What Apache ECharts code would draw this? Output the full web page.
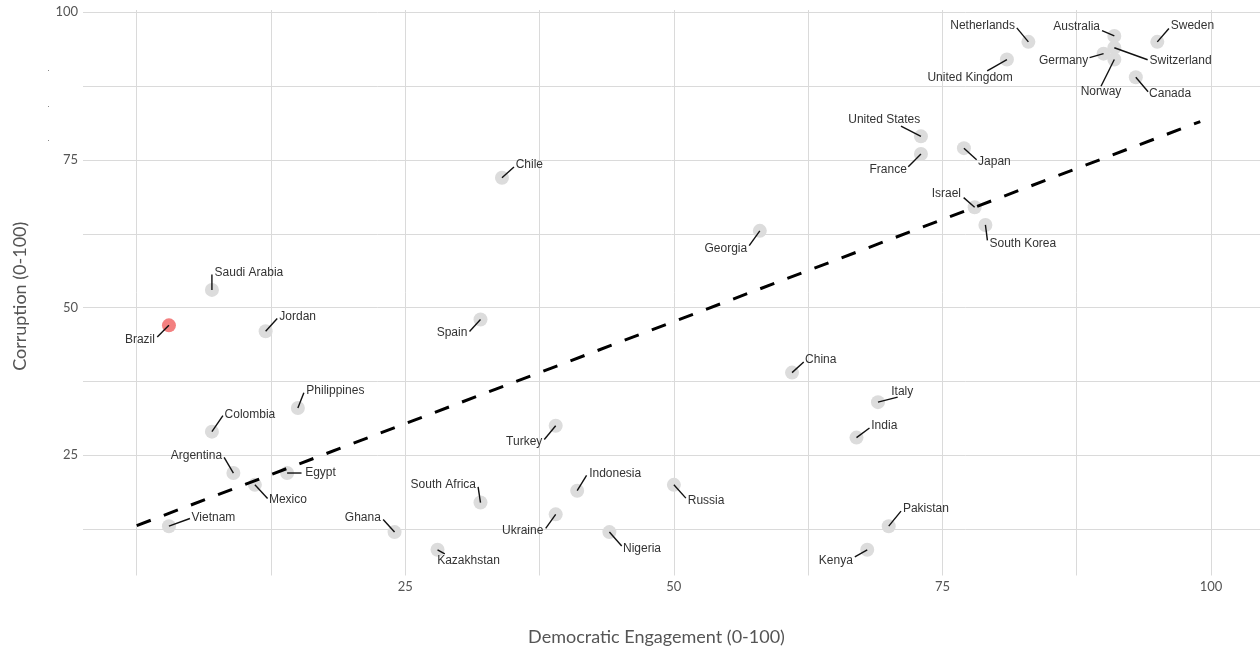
<!DOCTYPE html>
<html><head><meta charset="utf-8">
<script src="https://cdn.jsdelivr.net/npm/echarts@6/dist/echarts.min.js"></script>
<style>html,body{margin:0;padding:0;background:#fff}#c{width:1260px;height:651px}</style>
</head><body><div id="c"></div>
<script>
// ---- data ----
const countries = ['Brazil','Saudi Arabia','Jordan','Chile','Spain','Philippines','Colombia','Argentina','Egypt','Mexico','Vietnam','Ghana','Kazakhstan','Turkey','South Africa','Indonesia','Russia','Ukraine','Nigeria','United States','France','Japan','Israel','South Korea','Georgia','China','Italy','India','Pakistan','Kenya','Netherlands','United Kingdom','Australia','Sweden','Germany','Switzerland','Norway','Canada'];
const engagement = [3,7,12,34,32,15,7,9,14,11,3,24,28,39,32,41,50,39,44,73,73,77,78,79,58,61,69,67,70,68,83,81,91,95,90,91,91,93];
const corruption = [47,53,46,72,48,33,29,22,22,20,13,12,9,30,17,19,20,15,12,79,76,77,67,64,63,39,34,28,13,9,95,92,96,95,93,94,92,89];
const highlighted = ['Brazil'];
const trendX = [0, 99];
const trendY = [13.1, 81.5];
const xTickValues = [0,12.5,25,37.5,50,62.5,75,87.5,100];
const xLabelValues = [25,50,75,100];
const yTickValues = [12.5,25,37.5,50,62.5,75,87.5,100];
const yLabelValues = [25,50,75,100];

// ---- layout: label offsets in px [textDx, textDy, lineEndDx, lineEndDy] ----
const labelOffsets = {
  'Brazil':[-29,14.7,-11.7,11.7],
  'Saudi Arabia':[37,-17,0,-15.3],
  'Jordan':[32,-15,11.6,-12.7],
  'Chile':[27.4,-13,12,-10.7],
  'Spain':[-28.5,13.7,-11,12],
  'Philippines':[37.5,-17,6,-15.4],
  'Colombia':[38,-17.3,11,-16],
  'Argentina':[-37,-17.3,-9.3,-15.7],
  'Egypt':[33.4,0,14.4,0],
  'Mexico':[33,15.3,12.7,13.7],
  'Vietnam':[44.5,-8.7,21,-7.7],
  'Ghana':[-31.7,-14.3,-11.4,-12.6],
  'Kazakhstan':[31,10.7,7.3,4],
  'Turkey':[-31.5,15.7,-11.4,13.7],
  'South Africa':[-37.2,-18,-2.4,-15.7],
  'Indonesia':[38,-17.3,9.4,-15.3],
  'Russia':[32.2,15.7,12,13.3],
  'Ukraine':[-33,16.7,-10,14],
  'Nigeria':[32.6,16.4,12.3,14],
  'United States':[-36.7,-17,-20,-10.3],
  'France':[-32.8,16,-12.7,12.7],
  'Japan':[30.5,13.4,12.7,11.7],
  'Israel':[-28.3,-13.3,-11,-9.6],
  'South Korea':[37.4,18.7,2,15.4],
  'Georgia':[-34,17.7,-10.6,14.7],
  'China':[28.7,-13.3,11.7,-10.6],
  'Italy':[24.3,-10.7,19.7,-5],
  'India':[27.8,-12.3,13,-9.6],
  'Pakistan':[37.2,-17,12.3,-15],
  'Kenya':[-31.4,10.4,-12.4,7],
  'Netherlands':[-45.8,-16,-11.6,-14],
  'United Kingdom':[-36.8,18.4,-19.7,11.4],
  'Australia':[-37.7,-9.6,-12.3,-5.3],
  'Sweden':[35.1,-16,11.6,-13.4],
  'Germany':[-40,6.7,-14,4],
  'Switzerland':[66.3,12.7,33.3,12],
  'Norway':[-13.3,32,-13.3,26.7],
  'Canada':[34.3,16.4,12.3,14.4]
};

const points = countries.map((c, i) => [engagement[i], corruption[i]]);
const trend = trendX.map((x, i) => [x, trendY[i]]);
const AXIS_FONT = 'Lato, "Open Sans", sans-serif';

const chart = echarts.init(document.getElementById('c'), null, {renderer: 'canvas'});
chart.setOption({
  animation: false,
  backgroundColor: '#fff',
  grid: {left: 83, right: 0, top: 10, bottom: 74.5, containLabel: false},
  xAxis: {
    type: 'value', min: -5, max: 104.56,
    name: 'Democratic Engagement (0-100)', nameLocation: 'middle', nameGap: 52.5,
    nameTextStyle: {fontFamily: AXIS_FONT, fontSize: 18, color: '#555', padding: [0, 30, 0, 0]},
    axisLine: {show: false},
    axisTick: {show: false, customValues: xTickValues},
    axisLabel: {customValues: xLabelValues, fontFamily: AXIS_FONT, fontSize: 13, color: '#555', margin: 5},
    splitLine: {show: true, lineStyle: {color: '#dadada', width: 1}}
  },
  yAxis: {
    type: 'value', min: 4.65, max: 100.39,
    name: 'Corruption (0-100)', nameLocation: 'middle', nameGap: 54, nameRotate: 90,
    nameTextStyle: {fontFamily: AXIS_FONT, fontSize: 18, color: '#555', padding: [0, 7, 0, 0]},
    axisLine: {show: false},
    axisTick: {show: false, customValues: yTickValues},
    axisLabel: {customValues: yLabelValues, fontFamily: AXIS_FONT, fontSize: 13, color: '#555', margin: 5},
    splitLine: {show: true, lineStyle: {color: '#dadada', width: 1}}
  },
  series: [
    {
      type: 'scatter', z: 2, symbol: 'circle', symbolSize: 14,
      data: points,
      itemStyle: {
        opacity: 1,
        color: p => highlighted.indexOf(countries[p.dataIndex]) >= 0 ? '#f38080' : '#dcdcdc'
      }
    },
    {
      type: 'line', z: 3, data: trend, showSymbol: false, symbol: 'none',
      lineStyle: {color: '#000', width: 3, type: [15, 14]}
    },
    {
      type: 'custom', z: 4, clip: false, data: points,
      renderItem: function (params, api) {
        const name = countries[params.dataIndex];
        const p = api.coord([api.value(0), api.value(1)]);
        const o = labelOffsets[name];
        return {
          type: 'group',
          children: [
            {type: 'line', shape: {x1: p[0], y1: p[1], x2: p[0] + o[2], y2: p[1] + o[3]},
             style: {stroke: '#111', lineWidth: 1.4}},
            {type: 'text', x: p[0] + o[0], y: p[1] + o[1],
             style: {text: name, align: 'center', verticalAlign: 'middle',
                     font: '12px "Liberation Sans", Arial, sans-serif', fill: '#333'}}
          ]
        };
      }
    }
  ],
  graphic: [
    {type: 'rect', shape: {x: 48, y: 70, width: 1, height: 1}, style: {fill: '#888'}},
    {type: 'rect', shape: {x: 48, y: 106, width: 1, height: 1}, style: {fill: '#888'}},
    {type: 'rect', shape: {x: 48, y: 140, width: 1, height: 1}, style: {fill: '#888'}}
  ]
});
</script>
</body></html>
